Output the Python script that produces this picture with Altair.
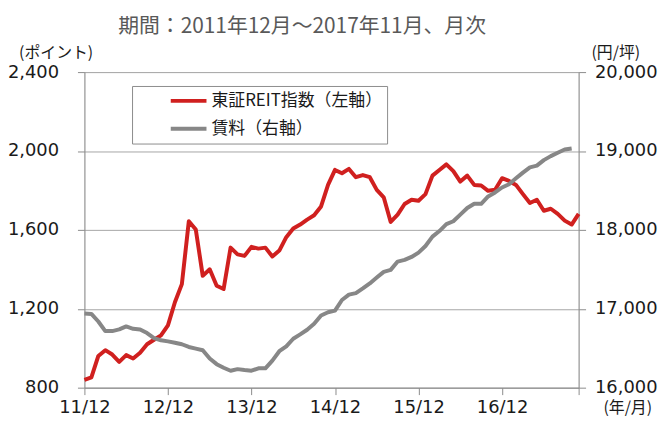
import altair as alt
import pandas as pd

# Month index 0 = 2011/12 ... 71 = 2017/11
reit_values = [839, 852, 961, 990, 968, 931, 965, 948, 977, 1020, 1043, 1065,
               1116, 1233, 1325, 1644, 1602, 1367, 1400, 1317, 1300, 1510, 1476, 1468,
               1514, 1505, 1510, 1465, 1495, 1563, 1607, 1627, 1652, 1674, 1719, 1828,
               1904, 1887, 1909, 1867, 1878, 1867, 1803, 1765, 1640, 1677, 1731, 1753,
               1748, 1781, 1875, 1904, 1932, 1898, 1845, 1875, 1828, 1825, 1798, 1803,
               1862, 1848, 1828, 1781, 1736, 1753, 1697, 1707, 1681, 1647, 1627, 1681]
rent_values = [16940, 16935, 16839, 16717, 16717, 16738, 16776, 16746, 16738, 16692, 16629, 16600,
               16587, 16570, 16550, 16516, 16495, 16474, 16369, 16298, 16252, 16214, 16235, 16223,
               16215, 16245, 16245, 16343, 16462, 16524, 16620, 16675, 16734, 16809, 16915, 16956,
               16977, 17111, 17179, 17199, 17258, 17321, 17396, 17468, 17493, 17598, 17619, 17657,
               17711, 17795, 17915, 17985, 18072, 18109, 18193, 18277, 18331, 18331, 18424, 18474,
               18537, 18579, 18654, 18726, 18793, 18814, 18884, 18935, 18977, 19019, 19032]
tick_months = [0, 12, 24, 36, 48, 60, 71]
tick_labels = ["11/12", "12/12", "13/12", "14/12", "15/12", "16/12", ""]
series_names = ["東証REIT指数（左軸）", "賃料（右軸）"]
series_colors = ["#d0201f", "#878787"]

reit_df = pd.DataFrame({"m": list(range(len(reit_values))), "v": reit_values})
rent_df = pd.DataFrame({"m": list(range(len(rent_values))), "v": rent_values})

label_js = "[" + ",".join("'" + s + "'" for s in tick_labels) + "]"
label_expr = label_js + "[indexof(" + "[" + ",".join(str(t) for t in tick_months) + "], datum.value)]"

JP = "Noto Sans CJK JP"
NUM = "DejaVu Sans"
AX = "#8c8c8c"

x_enc = alt.X(
    "m:Q",
    scale=alt.Scale(domain=[0, 71], nice=False, zero=False),
    axis=alt.Axis(
        values=tick_months, labelExpr=label_expr, grid=False,
        title="(年/月)", titleAngle=0, titleX=547, titleY=20,
        titleBaseline="middle", titleAlign="center",
        titleFont=JP, titleFontSize=16, titleFontWeight="normal", titleColor="#1a1a1a",
        labelFont=NUM, labelFontSize=18, labelColor="#1a1a1a", labelPadding=4,
        tickSize=7, tickColor=AX, domainColor=AX, labelFlush=False,
    ),
)

color_scale = alt.Scale(domain=series_names, range=series_colors)
legend = alt.Legend(
    orient="none", legendX=48, legendY=14, title=None,
    strokeColor=AX, fillColor="white", padding=5,
    symbolType="stroke", symbolSize=1296, symbolStrokeWidth=4,
    symbolOffset=32, labelOffset=3, clipHeight=20, rowPadding=8, labelLimit=300,
    labelFont=JP, labelFontSize=17, labelColor="#1a1a1a",
)

reit_line = alt.Chart(reit_df).mark_line(strokeWidth=4, strokeJoin="round").encode(
    x=x_enc,
    y=alt.Y(
        "v:Q",
        scale=alt.Scale(domain=[800, 2400], nice=False, zero=False),
        axis=alt.Axis(
            values=[800, 1200, 1600, 2000, 2400], format=",.0f", grid=True,
            gridColor="#a6a6a6", gridWidth=1,
            title="(ポイント)", titleAngle=0, titleX=-29, titleY=-20,
            titleBaseline="middle", titleAlign="center",
            titleFont=JP, titleFontSize=16, titleFontWeight="normal", titleColor="#1a1a1a",
            labelFont=NUM, labelFontSize=18, labelColor="#1a1a1a", labelPadding=19,
            tickSize=7, tickColor=AX, domainColor=AX,
        ),
    ),
    color=alt.Color("s:N", scale=color_scale, legend=legend),
).transform_calculate(s="'" + series_names[0] + "'")

rent_line = alt.Chart(rent_df).mark_line(strokeWidth=4, strokeJoin="round").encode(
    x=x_enc,
    y=alt.Y(
        "v:Q",
        scale=alt.Scale(domain=[16000, 20000], nice=False, zero=False),
        axis=alt.Axis(
            orient="right", values=[16000, 17000, 18000, 19000, 20000], format=",.0f", grid=False,
            title="(円/坪)", titleAngle=0, titleX=37, titleY=-20,
            titleBaseline="middle", titleAlign="center",
            titleFont=JP, titleFontSize=16, titleFontWeight="normal", titleColor="#1a1a1a",
            labelFont=NUM, labelFontSize=18, labelColor="#1a1a1a", labelPadding=9,
            tickSize=7, tickColor=AX, domainColor=AX,
        ),
    ),
    color=alt.Color("s:N", scale=color_scale, legend=legend),
).transform_calculate(s="'" + series_names[1] + "'")

chart = alt.layer(reit_line, rent_line).resolve_scale(y="independent").properties(
    width=498,
    height=318,
    padding={"left": 77, "top": 63, "right": 82, "bottom": 30},
    autosize=alt.AutoSizeParams(type="none"),
    title=alt.TitleParams(
        "期間：2011年12月～2017年11月、月次", anchor="start", frame="group",
        dx=34, offset=7, font=JP, fontSize=21, fontWeight="normal", color="#595959",
    ),
).configure_view(stroke=None).configure_legend(
    strokeColor=AX, strokeWidth=1, fillColor="white"
).configure(background="white")

chart.save("out.html", embed_options={"renderer": "svg", "actions": False})
